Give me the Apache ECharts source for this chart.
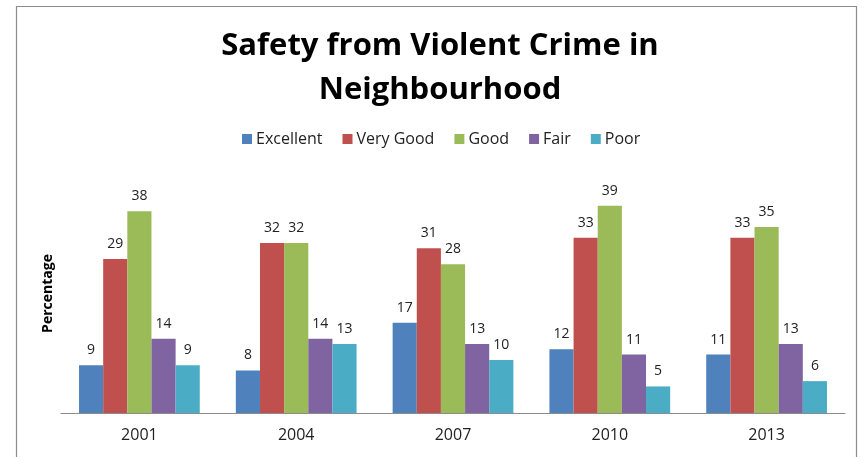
<!DOCTYPE html>
<html><head><meta charset="utf-8">
<script src="https://cdn.jsdelivr.net/npm/echarts@6/dist/echarts.min.js"></script>
<style>html,body{margin:0;padding:0;background:#fff}#c{width:864px;height:457px}</style>
</head><body><div id="c"></div>
<script>
const categories = ['2001','2004','2007','2010','2013'];
const seriesNames = ['Excellent','Very Good','Good','Fair','Poor'];
const excellent = [9, 8, 17, 12, 11];
const veryGood = [29, 32, 31, 33, 33];
const good = [38, 32, 28, 39, 35];
const fair = [14, 14, 13, 11, 13];
const poor = [9, 13, 10, 5, 6];
const colors = ['#4F81BD','#C0504D','#9BBB59','#8064A2','#4BACC6'];
const values = [excellent, veryGood, good, fair, poor];
const font = '"Open Sans", "Noto Sans", sans-serif';

const chart = echarts.init(document.getElementById('c'));
chart.setOption({
  animation: false,
  textStyle: {fontFamily: font},
  graphic: [{type:'rect', shape:{x:16.5, y:6.5, width:840, height:470}, style:{fill:'none', stroke:'#8c8c8c', lineWidth:1.2}, silent:true, z:-1}],
  title: {
    text: 'Safety from Violent Crime in\nNeighbourhood',
    left: 435, top: 19, textAlign: 'center',
    textStyle: {fontFamily: font, fontSize: 31, fontWeight: 'bold', color: '#000', lineHeight: 44}
  },
  legend: {
    top: 126, left: 237,
    itemWidth: 10, itemHeight: 10, itemGap: 20,
    icon: 'rect',
    textStyle: {fontFamily: font, fontSize: 16, color: '#222', padding:[0,0,0,-1]},
    data: seriesNames
  },
  grid: {left: 61, right: 19, top: 174, bottom: 44},
  xAxis: {
    type: 'category', data: categories,
    axisLine: {lineStyle: {color: '#8c8c8c', width: 1}},
    axisTick: {length: 5, lineStyle: {color: '#8c8c8c'}},
    axisLabel: {fontFamily: font, fontSize: 16, color: '#222', margin: 14}
  },
  yAxis: {
    type: 'value', min: 0, max: 45,
    name: 'Percentage', nameLocation: 'middle', nameRotate: 90, nameGap: 6,
    nameTextStyle: {fontFamily: font, fontSize: 14, fontWeight: 'bold', color: '#000'},
    axisLine: {show: false}, axisTick: {show: false}, axisLabel: {show: false},
    splitLine: {show: false}
  },
  series: seriesNames.map((n, i) => ({
    name: n, type: 'bar', data: values[i],
    barGap: '0%', barCategoryGap: '23%',
    itemStyle: {color: colors[i]},
    label: {show: true, position: 'top', distance: 8, fontFamily: font, fontSize: 14, color: '#222'}
  }))
});
</script></body></html>
